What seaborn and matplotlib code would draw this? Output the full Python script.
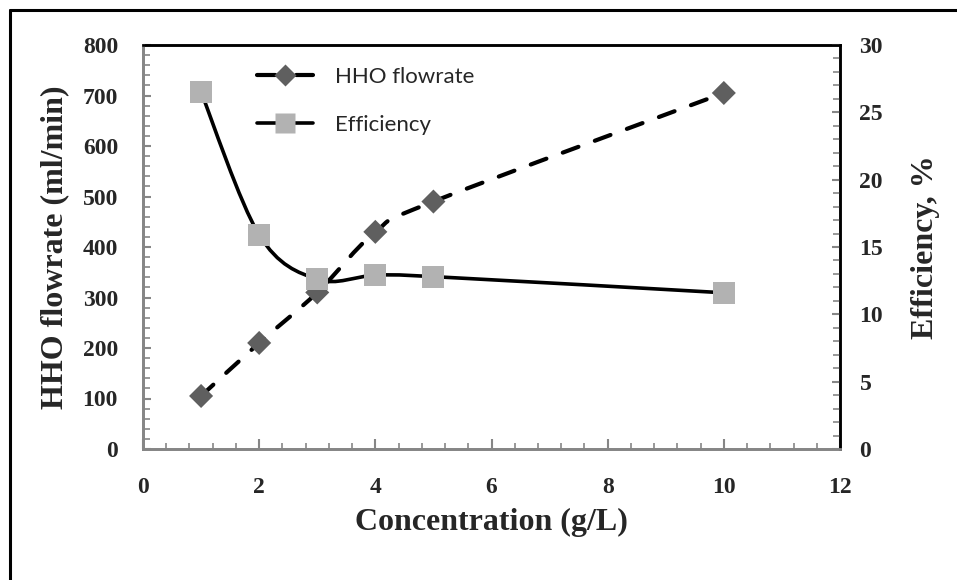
import numpy as np
import matplotlib
matplotlib.use("Agg")
import matplotlib.pyplot as plt
import seaborn as sns
from matplotlib.path import Path
from matplotlib.patches import PathPatch
from matplotlib.lines import Line2D
from matplotlib.ticker import MultipleLocator

# data
concentration = [1, 2, 3, 4, 5, 10]
hho_flowrate = [105, 210, 310, 430, 490, 705]
efficiency = [26.5, 15.9, 12.6, 12.9, 12.8, 11.6]

sns.set_style("white")
plt.rcParams['font.family'] = ['Liberation Serif', 'DejaVu Serif']


def smooth_path(x, y):
    # excel-style smoothed line: cubic bezier through the points
    pts = np.column_stack([x, y]).astype(float)
    n = len(pts)
    verts = [pts[0]]
    codes = [Path.MOVETO]
    for i in range(n - 1):
        p0 = pts[i - 1] if i > 0 else pts[i]
        p1 = pts[i]
        p2 = pts[i + 1]
        p3 = pts[i + 2] if i + 2 < n else pts[i + 1]
        verts += [p1 + (p2 - p0) / 6, p2 - (p3 - p1) / 6, p2]
        codes += [Path.CURVE4] * 3
    return Path(verts, codes)


dash = (0, (4, 4.2))
diamond_col = '#5f5f5f'
square_col = '#b2b2b2'
axis_gray = '#868686'

fig = plt.figure(figsize=(9.57, 5.8), dpi=100)
ax = fig.add_axes([143 / 957, 131 / 580, 697 / 957, 404 / 580])
ax2 = ax.twinx()

# HHO flowrate on left axis
ax.add_patch(PathPatch(smooth_path(concentration, hho_flowrate), fill=False,
                       edgecolor='black', lw=3.0, linestyle=dash, capstyle='round'))
sns.scatterplot(x=concentration, y=hho_flowrate, marker='D', s=150, color=diamond_col,
                edgecolor='none', ax=ax, zorder=3)

# efficiency on right axis
ax2.add_patch(PathPatch(smooth_path(concentration, efficiency), fill=False,
                        edgecolor='black', lw=2.6))
sns.scatterplot(x=concentration, y=efficiency, marker='s', s=250, color=square_col,
                edgecolor='none', ax=ax2, zorder=3)

ax.set_xlim(0, 12)
ax.set_ylim(0, 800)
ax2.set_ylim(0, 30)

ax.xaxis.set_major_locator(MultipleLocator(2))
ax.xaxis.set_minor_locator(MultipleLocator(0.4))
ax.yaxis.set_major_locator(MultipleLocator(100))
ax.yaxis.set_minor_locator(MultipleLocator(20))
ax2.yaxis.set_major_locator(MultipleLocator(5))
ax2.yaxis.set_minor_locator(MultipleLocator(1))

ax.tick_params(axis='x', which='major', direction='in', length=7, width=1.5, color=axis_gray,
               pad=20, labelsize=17, bottom=True)
ax.tick_params(axis='x', which='minor', direction='in', length=4, width=1.2, color=axis_gray, bottom=True)
ax.tick_params(axis='y', which='major', direction='in', length=6, width=1.5, color=axis_gray,
               pad=18, labelsize=17, left=True)
ax.tick_params(axis='y', which='minor', direction='in', length=5, width=1.2, color=axis_gray, left=True)
ax2.tick_params(axis='y', which='major', direction='in', length=6, width=1.5, color=axis_gray,
                pad=14, labelsize=17, right=True)
ax2.tick_params(axis='y', which='minor', direction='in', length=5, width=1.2, color=axis_gray, right=True)

for lab in ax.get_xticklabels() + ax.get_yticklabels() + ax2.get_yticklabels():
    lab.set_fontweight('bold')

for a in (ax, ax2):
    a.spines['left'].set_color(axis_gray)
    a.spines['bottom'].set_color(axis_gray)
    a.spines['left'].set_linewidth(2)
    a.spines['bottom'].set_linewidth(2)
    a.spines['top'].set_color('black')
    a.spines['right'].set_color('black')
    a.spines['top'].set_linewidth(1.8)
    a.spines['right'].set_linewidth(1.8)

ax.set_xlabel('Concentration (g/L)', fontsize=23, fontweight='bold', va='center')
ax.set_ylabel('HHO flowrate (ml/min)', fontsize=23, fontweight='bold', va='center')
ax2.set_ylabel('Efficiency, %', fontsize=23, fontweight='bold', va='center', rotation=90)
ax.xaxis.set_label_coords(0.5, -0.183)
ax.yaxis.set_label_coords(-0.126, 0.5)
ax2.yaxis.set_label_coords(1.122, 0.5)

handles = [
    Line2D([], [], color='black', lw=3.0, linestyle=(0, (4.4, 5.0)), marker='D', ms=11,
           mfc=diamond_col, mec='none', dash_capstyle='round'),
    Line2D([], [], color='black', lw=2.6, marker='s', ms=15,
           mfc=square_col, mec='none'),
]
ax2.legend(handles, ['HHO flowrate', 'Efficiency'], loc='upper left',
           bbox_to_anchor=(0.164, 0.945), frameon=False, borderpad=0, borderaxespad=0,
           handlelength=2.5, handletextpad=1.0, labelspacing=1.25,
           prop={'family': 'Lato', 'size': 16})

# outer frame of the original figure
fig.add_artist(Line2D([10 / 957, 1], [1 - 10 / 580, 1 - 10 / 580], transform=fig.transFigure,
                      color='black', lw=2.2))
fig.add_artist(Line2D([10 / 957, 10 / 957], [0, 1 - 10 / 580], transform=fig.transFigure,
                      color='black', lw=2.2))

fig.savefig('out.png', dpi=100)
